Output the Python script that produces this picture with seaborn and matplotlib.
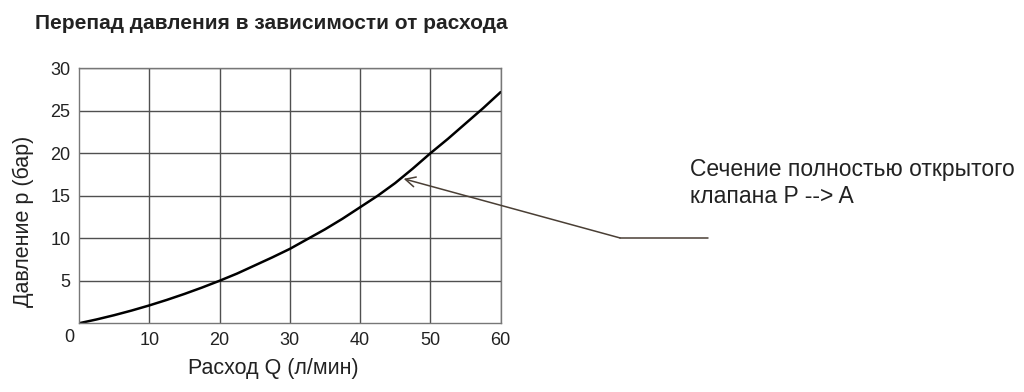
import numpy as np
import pandas as pd
import matplotlib
matplotlib.use('Agg')
import matplotlib.pyplot as plt
import seaborn as sns
from matplotlib.lines import Line2D

# values
flow = [0, 2.5, 5, 7.5, 10, 12.5, 15, 17.5, 20, 22.5, 25, 27.5, 30,
        32.5, 35, 37.5, 40, 42.5, 45, 47.5, 50, 52.5, 55, 57.5, 60]
pressure = [0, 0.45, 0.95, 1.5, 2.1, 2.75, 3.45, 4.2, 5.0, 5.85, 6.8, 7.75, 8.75,
            9.9, 11.05, 12.3, 13.65, 15.0, 16.5, 18.2, 20.0, 21.7, 23.5, 25.3, 27.2]
x_ticks = [10, 20, 30, 40, 50, 60]
y_ticks = [5, 10, 15, 20, 25, 30]

title = 'Перепад давления в зависимости от расхода'
x_label = 'Расход Q (л/мин)'
y_label = 'Давление p (бар)'
note = 'Сечение полностью открытого\nклапана P --> A'

df = pd.DataFrame({'Q': flow, 'p': pressure})

sns.set_style('white')
plt.rcParams['font.family'] = ['Liberation Sans', 'DejaVu Sans']

fig = plt.figure(figsize=(10.24, 3.92), dpi=100)
ax = fig.add_axes([0.0771, 0.1753, 0.4118, 0.6505])

sns.lineplot(data=df, x='Q', y='p', ax=ax, color='black', linewidth=1.8)

ax.set_xlim(0, 60)
ax.set_ylim(0, 30)
ax.set_xticks(x_ticks)
ax.set_yticks(y_ticks)
ax.grid(True, color='#505050', linewidth=1.0)
ax.tick_params(length=0, labelsize=13, colors='#222222', pad=6)
for s in ax.spines.values():
    s.set_color('#777777')
    s.set_linewidth(1.0)

ax.set_xlabel(x_label, fontsize=15.5, color='#222222', labelpad=7, x=0.46)
ax.set_ylabel(y_label, fontsize=15.5, color='#222222', labelpad=12, y=0.4)
# lone zero at the origin corner
ax.text(-0.012, -0.022, '0', transform=ax.transAxes, ha='right', va='top',
        fontsize=13, color='#222222')

fig.text(0.034, 0.94, title, fontsize=15, fontweight='bold', color='#222222',
         va='center', ha='left')

# annotation: leader line plus arrow to curve
ax.annotate('', xy=(46.2, 17.0), xycoords='data',
            xytext=(0.6055, 0.393), textcoords='figure fraction',
            arrowprops=dict(arrowstyle='->', color='#4a3f35', lw=1.1,
                            shrinkA=0, shrinkB=0, mutation_scale=18))
fig.add_artist(Line2D([0.6055, 0.6914], [0.393, 0.393], color='#4a3f35',
                      lw=1.1, transform=fig.transFigure))
fig.text(0.674, 0.533, note, fontsize=16.5, color='#222222', va='center',
         ha='left', linespacing=1.25)

fig.savefig('out.png', dpi=100)
